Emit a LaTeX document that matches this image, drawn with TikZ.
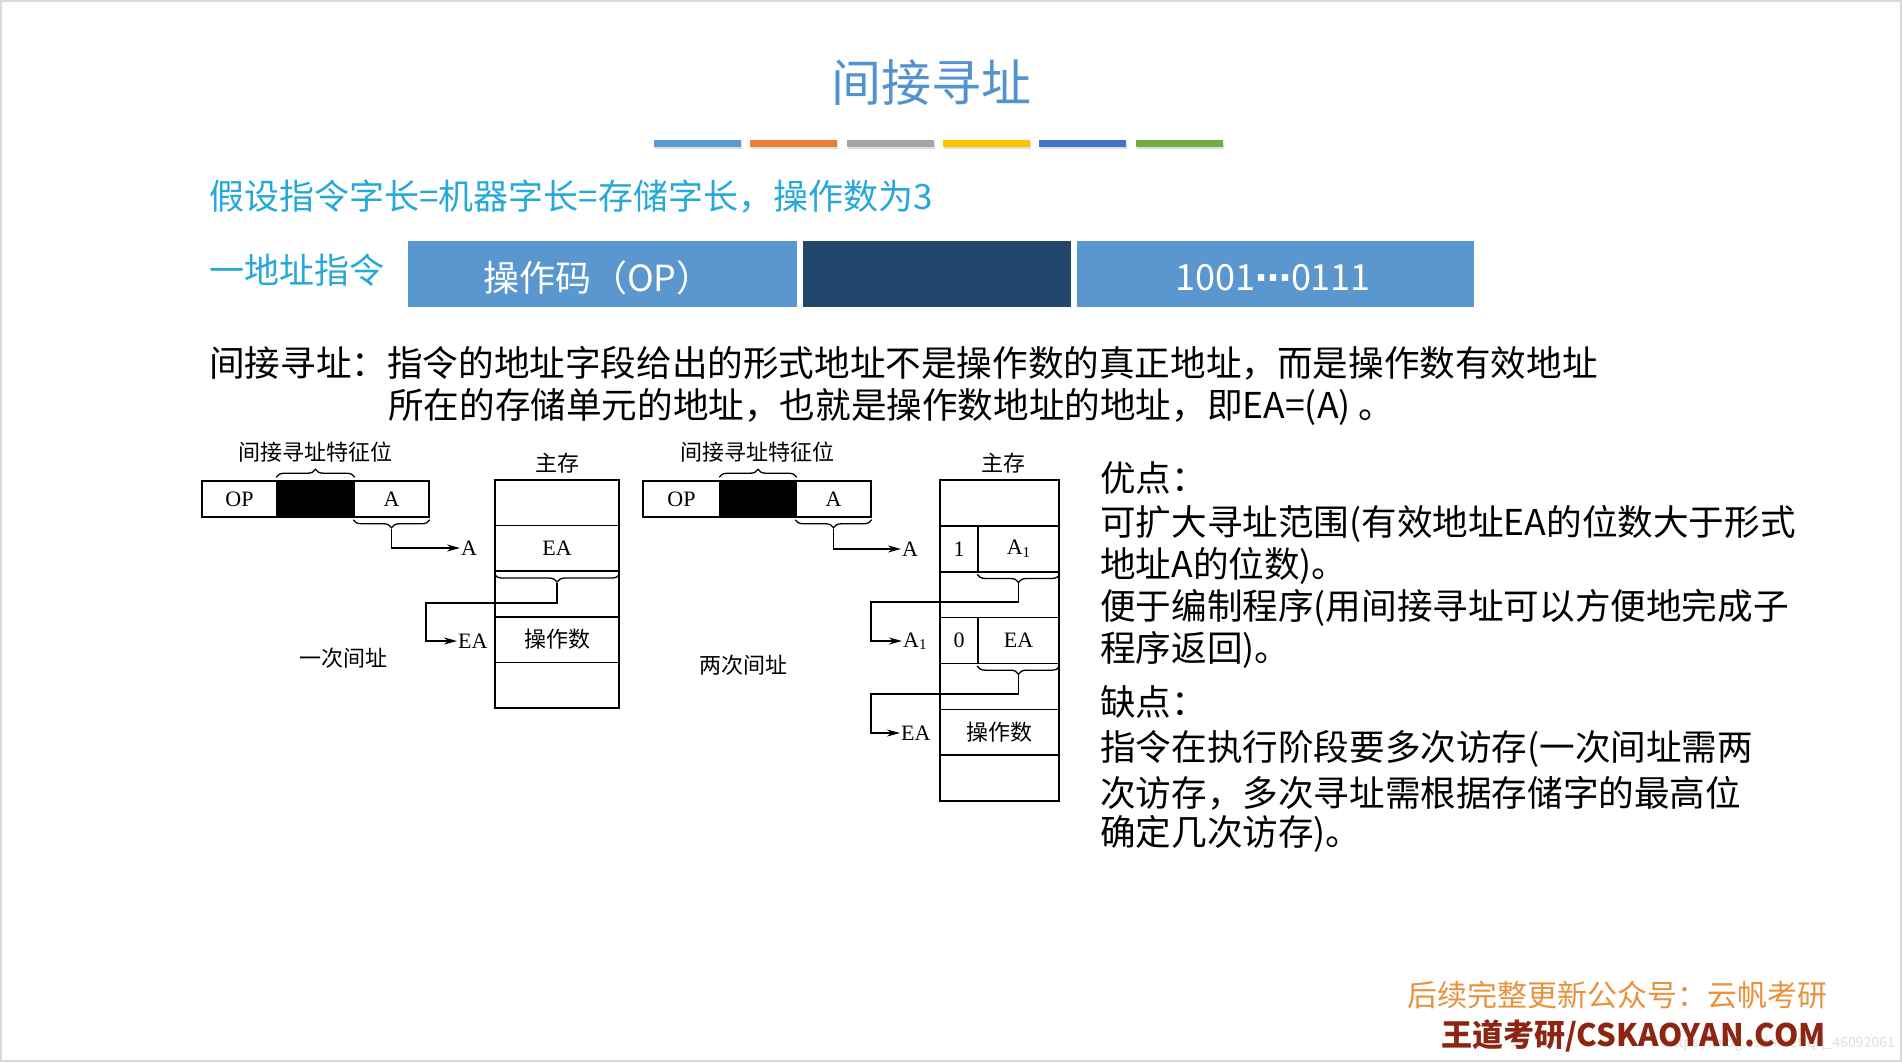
\documentclass[tikz,border=0pt]{standalone}
\usepackage{fontspec}
\setmainfont{Noto Sans CJK SC}
\newfontfamily\song{Noto Sans CJK SC}
\newfontfamily\tms{Liberation Serif}
\newfontfamily\dvs{DejaVu Sans}
\usetikzlibrary{arrows.meta,decorations.pathreplacing}
\definecolor{ttl}{RGB}{82,146,206}
\definecolor{cyn}{RGB}{38,168,218}
\definecolor{bxb}{RGB}{91,151,207}
\definecolor{bxd}{RGB}{33,72,108}
\definecolor{cb1}{RGB}{91,155,213}
\definecolor{cb2}{RGB}{237,125,49}
\definecolor{cb3}{RGB}{165,165,165}
\definecolor{cb4}{RGB}{255,192,0}
\definecolor{cb5}{RGB}{68,114,196}
\definecolor{cb6}{RGB}{112,173,71}
\definecolor{ftor}{RGB}{232,146,60}
\definecolor{ftrd}{RGB}{140,38,18}
\tikzset{
  body/.style={font=\fontsize{35.6}{40}\selectfont, anchor=west, inner sep=0pt},
  blue35/.style={font=\fontsize{35}{38}\selectfont, text=cyn, anchor=west, inner sep=0pt},
  dlat/.style={font=\tms\fontsize{22}{24}\selectfont, inner sep=1pt},
  dcjk/.style={font=\song\fontsize{22}{25}\selectfont, inner sep=0pt},
  icell/.style={draw, line width=1.5pt, inner sep=0pt, minimum height=36pt},
  mcell/.style={draw, line width=1.5pt, inner sep=0pt, minimum height=45.8pt},
  br/.style={decorate, decoration={brace, amplitude=8pt}, line width=1.3pt},
  arr/.style={line width=1.5pt, -{Stealth[length=13pt,width=7pt]}},
  wbox/.style={inner sep=0pt, minimum height=66pt},
  wtxt/.style={inner sep=0pt, text=white, font=\fontsize{36}{40}\selectfont}
}
\begin{document}
\begin{tikzpicture}[x=1pt,y=-1pt]
\useasboundingbox (0,0) rectangle (1902,1062);
\fill[white] (0,0) rectangle (1902,1062);
\draw[gray!30, line width=2pt] (1,1) rectangle (1901,1061);

% title
\node[font=\fontsize{50}{54}\selectfont, text=ttl, inner sep=0pt] (title) at (931,83) {间接寻址};
\foreach \c [count=\i from 0] in {cb1,cb2,cb3,cb4,cb5,cb6}{
  \fill[gray!25] ({655+\i*96.3},142) rectangle ++(87,7);
  \fill[\c] ({654+\i*96.3},140) rectangle ++(87,7);
}

% assumption line
\node[blue35] (assume) at (209,197) {假设指令字长=机器字长=存储字长，操作数为3};
\node[blue35] (oneaddr) at (209,270) {一地址指令};
\node[wbox, fill=bxb, minimum width=389pt] (opbox) at (602.5,274) {};
\node[wbox, fill=bxd, minimum width=268pt] (midbox) at (937,274) {};
\node[wbox, fill=bxb, minimum width=397pt] (adbox) at (1275.5,274) {};
\node[wtxt] (optxt) at (598,278) {操作码（OP）};
\node[wtxt] (adtxt) at (1273,278) {1001{\dvs\bfseries ⋯}0111};

% definition
\node[body] (def1) at (209,363) {间接寻址：指令的地址字段给出的形式地址不是操作数的真正地址，而是操作数有效地址};
\node[body] (def2) at (388,407) {所在的存储单元的地址，也就是操作数地址的地址，即EA=(A) 。};

% ===== left diagram (one indirection)
\node[dcjk] (featL) at (315,452) {间接寻址特征位};
\node[icell, minimum width=75pt] (opL) at (239.5,499) {\tms\fontsize{22}{24}\selectfont OP};
\node[icell, minimum width=77pt, fill=black] (bkL) at (315.5,499) {};
\node[icell, minimum width=75pt] (aL) at (391.5,499) {\tms\fontsize{22}{24}\selectfont A};
\draw[br] ([yshift=3pt]bkL.north west) -- ([yshift=3pt]bkL.north east);
\draw[br] ([yshift=-2pt]aL.south east) -- ([yshift=-2pt]aL.south west);
\coordinate (tL1) at ([yshift=-11pt]aL.south);

\node[dcjk] (zcL) at (557,463) {主存};
\foreach \r in {1,...,5}{
  \node[mcell, minimum width=124pt] (mL\r) at (557,{480+22.8+(\r-1)*45.6}) {};
}
\node[dlat] at (mL2) {EA};
\node[dcjk] at (mL4) {操作数};
\draw[br] ([yshift=-2pt]mL2.south east) -- ([yshift=-2pt]mL2.south west);
\coordinate (tL2) at ([yshift=-11pt]mL2.south);

\node[dlat, anchor=west] (lAL) at (460,548) {A};
\node[dlat, anchor=west] (lEAL) at (457,641) {EA};
\coordinate (kL) at (426,603);
\draw[arr] (tL1) |- (lAL.west);
\draw[arr] (tL2) |- (kL) |- (lEAL.west);
\node[dcjk] (onceL) at (343,658) {一次间址};

% ===== right diagram (two indirections)
\node[dcjk] (featR) at (757,452) {间接寻址特征位};
\node[icell, minimum width=77pt] (opR) at (681.5,499) {\tms\fontsize{22}{24}\selectfont OP};
\node[icell, minimum width=76pt, fill=black] (bkR) at (758,499) {};
\node[icell, minimum width=75pt] (aR) at (833.5,499) {\tms\fontsize{22}{24}\selectfont A};
\draw[br] ([yshift=3pt]bkR.north west) -- ([yshift=3pt]bkR.north east);
\draw[br] ([yshift=-2pt]aR.south east) -- ([yshift=-2pt]aR.south west);
\coordinate (tR1) at ([yshift=-11pt]aR.south);

\node[dcjk] (zcR) at (1003,463) {主存};
\foreach \r in {1,3,5,6,7}{
  \node[mcell, minimum width=119pt] (mR\r) at (999.5,{480+22.93+(\r-1)*45.86}) {};
}
\node[mcell, minimum width=38pt] (mR2a) at (959,{480+22.93+45.86}) {};
\node[mcell, minimum width=81pt] (mR2b) at (1018.5,{480+22.93+45.86}) {};
\node[mcell, minimum width=38pt] (mR4a) at (959,{480+22.93+3*45.86}) {};
\node[mcell, minimum width=81pt] (mR4b) at (1018.5,{480+22.93+3*45.86}) {};
\node[dlat] at (mR2a) {1};
\node[dlat] at (mR2b) {A\raisebox{-0.25ex}{\fontsize{15}{15}\selectfont 1}};
\node[dlat] at (mR4a) {0};
\node[dlat] at (mR4b) {EA};
\node[dcjk] at (mR6) {操作数};
\draw[br] ([yshift=-2pt]mR2b.south east) -- ([yshift=-2pt]mR2b.south west);
\coordinate (tR2) at ([yshift=-11pt]mR2b.south);
\draw[br] ([yshift=-2pt]mR4b.south east) -- ([yshift=-2pt]mR4b.south west);
\coordinate (tR3) at ([yshift=-11pt]mR4b.south);

\node[dlat, anchor=west] (lAR) at (901,549) {A};
\node[dlat, anchor=west] (lA1R) at (902,641) {A\raisebox{-0.25ex}{\fontsize{15}{15}\selectfont 1}};
\node[dlat, anchor=west] (lEAR) at (900,733) {EA};
\coordinate (kR1) at (871,602);
\coordinate (kR2) at (871,694);
\draw[arr] (tR1) |- (lAR.west);
\draw[arr] (tR2) |- (kR1) |- (lA1R.west);
\draw[arr] (tR3) |- (kR2) |- (lEAR.west);
\node[dcjk] (twiceR) at (743,665) {两次间址};

% ===== pros / cons
\node[body] (p0) at (1100,478) {优点：};
\node[body] (p1) at (1100,524) {可扩大寻址范围(有效地址EA的位数大于形式};
\node[body] (p2) at (1100,566) {地址A的位数)。};
\node[body] (p3) at (1100,608) {便于编制程序(用间接寻址可以方便地完成子};
\node[body] (p4) at (1100,650) {程序返回)。};
\node[body] (c0) at (1100,702) {缺点：};
\node[body] (c1) at (1100,749) {指令在执行阶段要多次访存(一次间址需两};
\node[body] (c2) at (1100,793) {次访存，多次寻址需根据存储字的最高位};
\node[body] (c3) at (1100,834) {确定几次访存)。};

% ===== footer
\node[font=\fontsize{30}{32}\selectfont, text=ftor, anchor=east, inner sep=0pt] (ft1) at (1828,995) {后续完整更新公众号：云帆考研};
\node[font=\fontsize{14}{15}\selectfont, text=gray!25, anchor=east, inner sep=0pt] (wm) at (1895,1044) {https://blog.csdn.net/qq\_46092061};
\node[font=\bfseries\fontsize{31}{33}\selectfont, text=ftrd, anchor=east, inner sep=0pt] (ft2) at (1826,1036) {王道考研/CSKAOYAN.COM};
\end{tikzpicture}
\end{document}
